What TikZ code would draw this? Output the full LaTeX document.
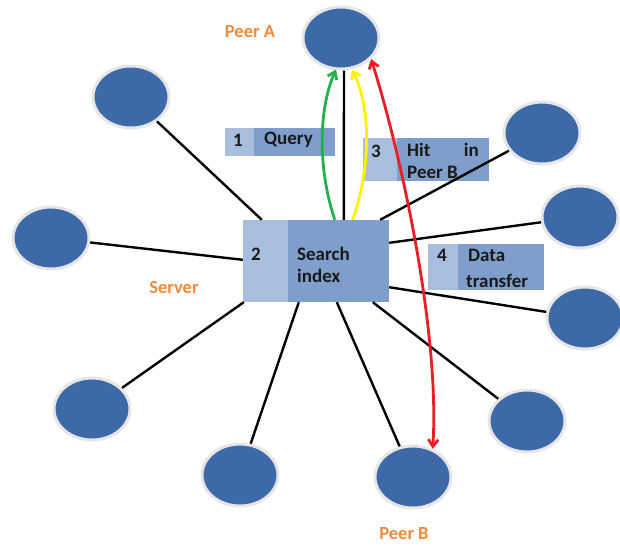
\documentclass[tikz,border=0pt]{standalone}
\usepackage{fontspec}
\setmainfont{Carlito}
\usetikzlibrary{shapes.geometric,arrows.meta}
\definecolor{peerblue}{HTML}{3D69A9}
\definecolor{peerrim}{HTML}{E6E6E6}
\definecolor{boxdark}{HTML}{7F9ECB}
\definecolor{boxlight}{HTML}{A9BEDE}
\definecolor{lblorange}{HTML}{F58A3A}
\definecolor{arrgreen}{HTML}{22B14C}
\definecolor{arryellow}{HTML}{FFF200}
\definecolor{arrred}{HTML}{ED1C24}
\tikzset{
  peer/.style={ellipse, fill=peerblue, draw=peerrim, line width=3pt, minimum width=76pt, minimum height=62pt, inner sep=0pt},
  infobox/.style={rectangle, fill=boxdark, inner sep=0pt},
  boxtxt/.style={font=\bfseries\fontsize{19}{19}\selectfont, text=black!90, inner sep=0pt},
  orangetxt/.style={font=\bfseries\fontsize{18.5}{18.5}\selectfont, text=lblorange, inner sep=0pt},
  link/.style={line width=2.4pt, black},
  flow/.style={line width=2.8pt, -{Straight Barb[length=7pt,width=10pt]}}
}
\begin{document}
\begin{tikzpicture}[x=1pt,y=-1pt]
\useasboundingbox (0,0) rectangle (620,546);
% peers
\node[peer] (pA) at (341,38) {};
\node[peer] (pTL) at (131,97) {};
\node[peer] (pRU) at (542,133) {};
\node[peer] (pL) at (51,238) {};
\node[peer] (pR) at (580,217) {};
\node[peer] (pRL) at (585,318) {};
\node[peer] (pBL) at (92,409) {};
\node[peer] (pBR) at (527,421) {};
\node[peer] (pBM) at (240,475) {};
\node[peer] (pB) at (413,477) {};
% server
\node[infobox, minimum width=146pt, minimum height=82pt] (srv) at (316,261) {};
\fill[boxlight] (srv.north west) rectangle ([xshift=45pt]srv.south west);
% info boxes
\node[infobox, minimum width=110pt, minimum height=28pt] (q) at (280,142) {};
\fill[boxlight] (q.north west) rectangle ([xshift=29pt]q.south west);
\node[infobox, minimum width=126pt, minimum height=43pt] (h) at (426,159.5) {};
\fill[boxlight] (h.north west) rectangle ([xshift=34pt]h.south west);
\node[infobox, minimum width=116pt, minimum height=46pt] (d) at (486,267) {};
\fill[boxlight] (d.north west) rectangle ([xshift=30pt]d.south west);
% links
\draw[link] ([xshift=101pt]srv.north west) -- ([xshift=3pt]pA.south);
\draw[link] ([xshift=19pt]srv.north west) -- (pTL);
\draw[link] ([yshift=-40pt]srv.north west) -- (pL);
\draw[link] ([xshift=-9pt]srv.north east) -- (pRU);
\draw[link] ([yshift=-23pt]srv.north east) -- (pR);
\draw[link] ([yshift=15pt]srv.south east) -- (pRL);
\draw[link] ([xshift=1pt]srv.south west) -- (pBL);
\draw[link] ([xshift=56pt]srv.south west) -- (pBM);
\draw[link] ([xshift=94pt]srv.south west) -- (pB);
\draw[link] ([xshift=130pt]srv.south west) -- (pBR);
% flows
\draw[flow, arrgreen] ([xshift=92pt]srv.north west) .. controls (318,170) and (318,110) .. ([xshift=-5pt,yshift=1pt]pA.south);
\draw[flow, arryellow] ([xshift=110pt]srv.north west) .. controls (370,170) and (372,110) .. ([xshift=11pt,yshift=1pt]pA.south);
\draw[flow, arrred, {Straight Barb[length=7pt,width=10pt]}-{Straight Barb[length=7pt,width=10pt]}] (pA.-35) .. controls (400,150) and (440,330) .. (pB.55);
% texts
\node[boxtxt] at (238,140) {1};
\node[boxtxt, anchor=west] at (264,140) {Query};
\node[boxtxt] at (376,151) {3};
\node[boxtxt, anchor=west] at (407,150) {Hit};
\node[boxtxt, anchor=east] at (479,150) {in};
\node[boxtxt, anchor=west] at (407,172) {Peer B};
\node[boxtxt] at (256,254) {2};
\node[boxtxt, anchor=west] at (297,254) {Search};
\node[boxtxt, anchor=west] at (297,276) {index};
\node[boxtxt] at (442,255) {4};
\node[boxtxt, anchor=west] at (468,255) {Data};
\node[boxtxt, anchor=west] at (466,281) {transfer};
\node[orangetxt] (lA) at (250,32) {Peer A};
\node[orangetxt] (lS) at (174,287) {Server};
\node[orangetxt] (lB) at (404,534) {Peer B};
\end{tikzpicture}
\end{document}
